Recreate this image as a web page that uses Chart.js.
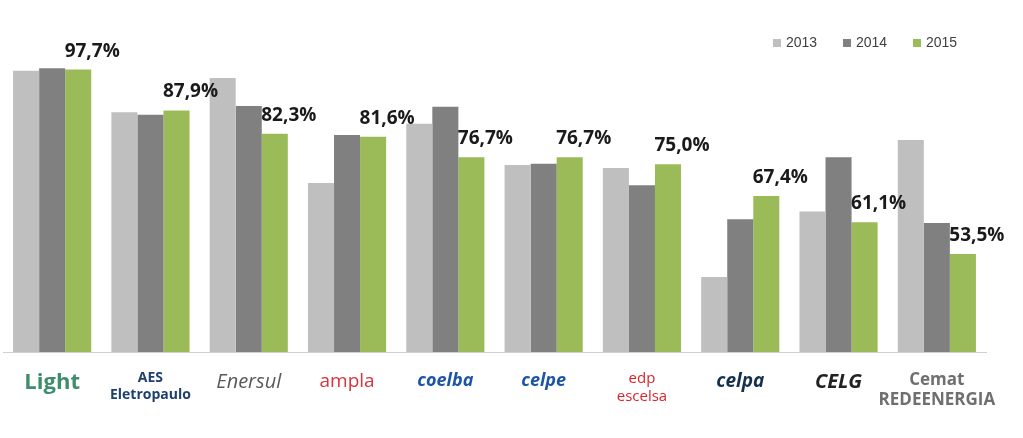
<!DOCTYPE html>
<html>
<head>
<meta charset="utf-8">
<script src="https://cdn.jsdelivr.net/npm/chart.js@4/dist/chart.umd.min.js"></script>
<style>
  html, body { margin: 0; padding: 0; background: #fff; }
  #wrap { width: 1023px; height: 438px; }
</style>
</head>
<body>
<div id="wrap"><canvas id="indice"></canvas></div>
<script>
// empresas (logos en el original, aqui como texto)
const empresas = ['Light', ['AES', 'Eletropaulo'], 'Enersul', 'ampla', 'coelba', 'celpe', ['edp', 'escelsa'], 'celpa', 'CELG', ['Cemat', 'REDEENERGIA']];
const anios = ['2013', '2014', '2015'];
const v2013 = [97.4, 87.5, 95.7, 70.5, 84.7, 74.8, 74.1, 48.0, 63.7, 80.8];
const v2014 = [98.0, 86.9, 89.0, 82.0, 88.8, 75.1, 70.0, 61.8, 76.7, 60.9];
const v2015 = [97.7, 87.9, 82.3, 81.6, 76.7, 76.7, 75.0, 67.4, 61.1, 53.5];
const colores = ['#bfbfbf', '#808080', '#9bbb59'];

// color y fuente de cada "logo"
const colorEmpresa = ['#3f8d6b', '#1f3f6e', '#5a5a5a', '#d8323c', '#1d55a6', '#1d55a6', '#d9252b', '#13304f', '#222222', '#6f6f6f'];
const fuenteEmpresa = [
  { family: 'Open Sans', size: 22, weight: 'bold' },
  { family: 'Open Sans', size: 14, weight: 'bold' },
  { family: 'Open Sans', size: 20, style: 'italic' },
  { family: 'Open Sans', size: 19 },
  { family: 'Open Sans', size: 18, weight: 'bold', style: 'italic' },
  { family: 'Open Sans', size: 18, weight: 'bold', style: 'italic' },
  { family: 'Open Sans', size: 15 },
  { family: 'Open Sans', size: 19, weight: 'bold', style: 'italic' },
  { family: 'Open Sans', size: 20, weight: 'bold', style: 'italic' },
  { family: 'Open Sans', size: 17, weight: 'bold' }
];

// etiquetas solo sobre la serie 2015
const etiquetas = {
  id: 'etiquetas',
  afterDatasetsDraw(chart) {
    const ctx = chart.ctx;
    const meta = chart.getDatasetMeta(2);
    ctx.save();
    ctx.font = 'bold 19px "Open Sans"';
    ctx.fillStyle = '#1a1a1a';
    ctx.textAlign = 'center';
    ctx.textBaseline = 'bottom';
    meta.data.forEach((bar, i) => {
      const txt = v2015[i].toFixed(1).replace('.', ',') + '%';
      ctx.fillText(txt, bar.x + 14, bar.y - 9);
    });
    ctx.restore();
  }
};

// leyenda arriba a la derecha
const leyenda = {
  id: 'leyenda',
  afterDraw(chart) {
    const ctx = chart.ctx;
    ctx.save();
    ctx.font = '14px "Liberation Sans"';
    ctx.textBaseline = 'middle';
    let x = 773;
    chart.data.datasets.forEach((ds) => {
      ctx.fillStyle = ds.backgroundColor;
      ctx.fillRect(x, 39, 8, 8);
      ctx.fillStyle = '#404040';
      ctx.fillText(ds.label, x + 13, 43);
      x += 70;
    });
    ctx.restore();
  }
};

(() => {
  const graph = document.getElementById('indice');
  window.myChart = new Chart(graph, {
    type: 'bar',
    data: {
      labels: empresas,
      datasets: [
        { label: anios[0], data: v2013, backgroundColor: colores[0] },
        { label: anios[1], data: v2014, backgroundColor: colores[1] },
        { label: anios[2], data: v2015, backgroundColor: colores[2] }
      ]
    },
    options: {
      responsive: true,
      maintainAspectRatio: false,
      animation: false,
      layout: { padding: { top: 60, left: 3, right: 37, bottom: 0 } },
      datasets: { bar: { categoryPercentage: 0.795, barPercentage: 1.0 } },
      plugins: { legend: { display: false }, tooltip: { enabled: false } },
      scales: {
        x: {
          grid: { display: false },
          border: { color: '#d0d0d0', width: 1 },
          afterFit(scale) { scale.height = 86; },
          ticks: {
            autoSkip: false,
            maxRotation: 0,
            padding: 10,
            color: (c) => colorEmpresa[c.index],
            font: (c) => fuenteEmpresa[c.index]
          }
        },
        y: {
          display: false,
          min: 30,
          max: 100
        }
      }
    },
    plugins: [etiquetas, leyenda]
  });
})();
</script>
</body>
</html>
